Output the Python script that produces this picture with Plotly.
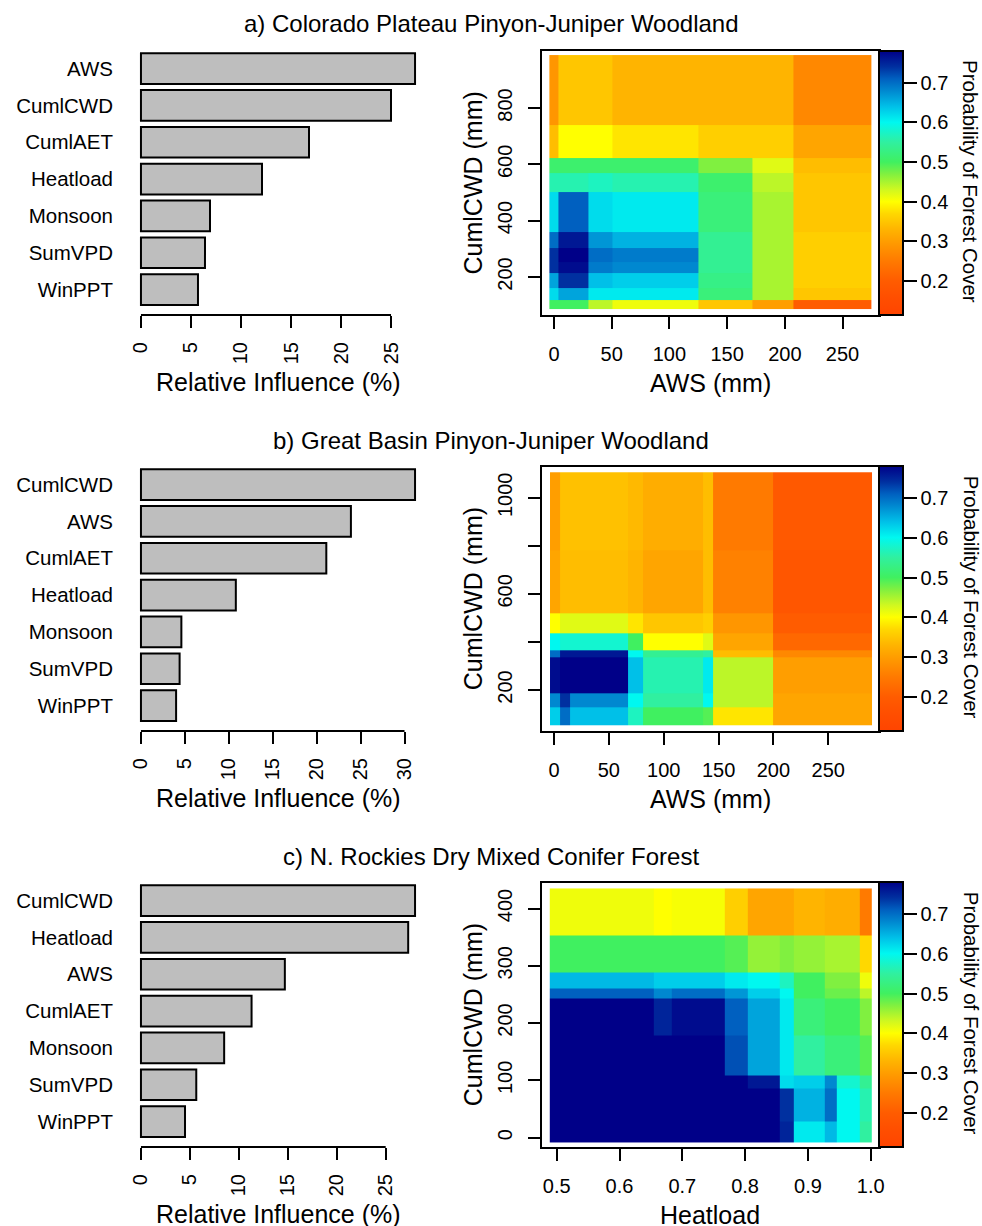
import plotly.graph_objects as go

FONT = "Liberation Sans, Arial, sans-serif"
W, H = 982, 1226

# ---------------- data ----------------
titles = ["a) Colorado Plateau Pinyon-Juniper Woodland",
          "b) Great Basin Pinyon-Juniper Woodland",
          "c) N. Rockies Dry Mixed Conifer Forest"]

vars_a = ["AWS", "CumlCWD", "CumlAET", "Heatload", "Monsoon", "SumVPD", "WinPPT"]
infl_a = [27.4, 25.0, 16.8, 12.1, 6.9, 6.4, 5.7]
vars_b = ["CumlCWD", "AWS", "CumlAET", "Heatload", "Monsoon", "SumVPD", "WinPPT"]
infl_b = [31.2, 23.9, 21.1, 10.8, 4.6, 4.4, 4.0]
vars_c = ["CumlCWD", "Heatload", "AWS", "CumlAET", "Monsoon", "SumVPD", "WinPPT"]
infl_c = [28.0, 27.3, 14.7, 11.3, 8.5, 5.65, 4.5]

# partial dependence grids (cell edges, rows bottom -> top)
aws_edges_a = [-4, 4, 30, 51, 125, 172, 207, 275]
cwd_edges_a = [85, 118, 160, 213, 254, 302, 361, 503, 568, 621, 740, 988]
prob_a = [
    [0.50, 0.50, 0.44, 0.41, 0.35, 0.30, 0.20],
    [0.62, 0.66, 0.61, 0.61, 0.52, 0.45, 0.35],
    [0.66, 0.74, 0.64, 0.63, 0.53, 0.45, 0.36],
    [0.74, 0.77, 0.69, 0.68, 0.54, 0.45, 0.36],
    [0.74, 0.78, 0.70, 0.69, 0.54, 0.45, 0.36],
    [0.70, 0.76, 0.67, 0.65, 0.54, 0.45, 0.36],
    [0.62, 0.71, 0.62, 0.61, 0.52, 0.45, 0.35],
    [0.56, 0.56, 0.57, 0.56, 0.51, 0.44, 0.35],
    [0.51, 0.51, 0.51, 0.51, 0.47, 0.42, 0.34],
    [0.34, 0.40, 0.40, 0.38, 0.36, 0.36, 0.31],
    [0.29, 0.35, 0.35, 0.33, 0.33, 0.33, 0.27],
]

aws_edges_b = [-3.6, 5.5, 15, 67.5, 81, 136, 145, 200, 290]
cwd_edges_b = [54, 130, 186, 338, 366, 435, 518, 781, 1106]
prob_b = [
    [0.63, 0.70, 0.64, 0.57, 0.50, 0.49, 0.38, 0.31],
    [0.68, 0.74, 0.68, 0.60, 0.55, 0.60, 0.44, 0.31],
    [0.77, 0.78, 0.78, 0.64, 0.56, 0.61, 0.44, 0.30],
    [0.70, 0.76, 0.76, 0.60, 0.54, 0.55, 0.34, 0.27],
    [0.60, 0.58, 0.58, 0.50, 0.40, 0.42, 0.31, 0.22],
    [0.40, 0.42, 0.42, 0.38, 0.35, 0.36, 0.29, 0.20],
    [0.31, 0.34, 0.34, 0.33, 0.31, 0.34, 0.26, 0.18],
    [0.30, 0.345, 0.345, 0.335, 0.32, 0.34, 0.25, 0.19],
]

heat_edges_c = [0.489, 0.654, 0.683, 0.768, 0.805, 0.856, 0.877, 0.927, 0.946, 0.983, 1.001]
cwd_edges_c = [-7.7, 27.4, 86, 109, 179, 243, 260, 289, 353, 435]
prob_c = [
    [0.78, 0.78, 0.78, 0.78, 0.78, 0.75, 0.61, 0.645, 0.60, 0.55],
    [0.78, 0.78, 0.78, 0.78, 0.78, 0.74, 0.65, 0.70, 0.60, 0.56],
    [0.78, 0.78, 0.78, 0.78, 0.76, 0.62, 0.63, 0.68, 0.58, 0.54],
    [0.78, 0.78, 0.78, 0.72, 0.66, 0.61, 0.55, 0.52, 0.52, 0.49],
    [0.78, 0.75, 0.77, 0.71, 0.66, 0.61, 0.52, 0.50, 0.50, 0.47],
    [0.71, 0.68, 0.70, 0.67, 0.63, 0.60, 0.50, 0.48, 0.48, 0.44],
    [0.645, 0.63, 0.63, 0.61, 0.60, 0.57, 0.50, 0.47, 0.47, 0.41],
    [0.50, 0.50, 0.50, 0.49, 0.46, 0.47, 0.46, 0.45, 0.45, 0.37],
    [0.41, 0.40, 0.405, 0.36, 0.31, 0.31, 0.33, 0.32, 0.32, 0.25],
]

xlabels = ["AWS (mm)", "AWS (mm)", "Heatload"]
ylabel = "CumlCWD (mm)"
cb_title = "Probability of Forest Cover"
x_ranges = [[-10.4, 281.6], [-10.9, 296.2], [0.4766, 1.0132]]
y_ranges = [[65.1, 1002.4], [29.7, 1130], [-16.4, 445.4]]
x_tickvals = [[0, 50, 100, 150, 200, 250], [0, 50, 100, 150, 200, 250],
              [0.5, 0.6, 0.7, 0.8, 0.9, 1.0]]
x_ticktext = [["0", "50", "100", "150", "200", "250"],
              ["0", "50", "100", "150", "200", "250"],
              ["0.5", "0.6", "0.7", "0.8", "0.9", "1.0"]]
y_tickvals = [[200, 400, 600, 800], [200, 400, 600, 800, 1000], [0, 100, 200, 300, 400]]
y_ticktext = [["200", "400", "600", "800"], ["200", "", "600", "", "1000"],
              ["0", "100", "200", "300", "400"]]
cb_ticks = [0.2, 0.3, 0.4, 0.5, 0.6, 0.7]
zmin, zmax = 0.114, 0.78

# colour ramp of the legend (value -> colour)
ramp_vals = [0.114, 0.16, 0.20, 0.25, 0.29, 0.33, 0.37, 0.40, 0.43, 0.47, 0.50,
             0.55, 0.60, 0.64, 0.68, 0.71, 0.74, 0.78]
ramp_cols = ["#FF4400", "#FF4F00", "#FF5C00", "#FF7A00", "#FF9600", "#FFB400",
             "#FFD800", "#FFFF00", "#D0F820", "#80F040", "#40F060", "#30F0A0",
             "#00F8F0", "#00C0E8", "#0088D0", "#0060C0", "#0030A0", "#000088"]
colorscale = [[(v - zmin) / (zmax - zmin), c] for v, c in zip(ramp_vals, ramp_cols)]

# ---------------- layout ----------------
def px(x):
    return x / W

def py(y):
    return 1 - y / H

def ax(letter, n):
    return letter if n == 1 else f"{letter}{n}"

fig = go.Figure()
bars = [(vars_a, infl_a), (vars_b, infl_b), (vars_c, infl_c)]
grids = [(aws_edges_a, cwd_edges_a, prob_a), (aws_edges_b, cwd_edges_b, prob_b),
         (heat_edges_c, cwd_edges_c, prob_c)]
bar_top = [43.2, 459.2, 875.2]
bar_bot = [315, 731, 1147]
hm_top = [51, 466.5, 882.5]
hm_bot = [315, 731, 1147]
title_y = [23, 440, 856]

annotations = []
shapes = []
layout = {}
for i in range(3):
    n = 2 * i + 1
    xb, yb = ax("x", n), ax("y", n)
    xh, yh = ax("x", n + 1), ax("y", n + 1)
    names, vals = bars[i]
    mx = max(vals)
    fig.add_trace(go.Bar(x=vals[::-1], y=names[::-1], orientation="h",
                         marker=dict(color="#BEBEBE", line=dict(color="black", width=2)),
                         xaxis=xb, yaxis=yb, showlegend=False))
    layout[ax("xaxis", n)] = dict(domain=[px(130), px(426)], anchor=yb,
                              range=[-0.04 * mx, 1.04 * mx], dtick=5, tick0=0,
                              showline=False, showgrid=False, zeroline=False,
                              ticks="outside", ticklen=12, tickwidth=2, tickcolor="black",
                              tickangle=-90, tickfont=dict(size=20, family=FONT, color="black"),
                              ticklabelstandoff=6)
    layout[ax("yaxis", n)] = dict(domain=[py(bar_bot[i]), py(bar_top[i])], anchor=xb,
                              type="category", range=[-0.69, 6.69],
                              showline=False, showgrid=False, zeroline=False, ticks="",
                              tickfont=dict(size=20.5, family=FONT, color="black"),
                              ticklabelstandoff=16)
    last_tick = int(mx // 5) * 5
    shapes.append(dict(type="line", xref=xb, yref=f"{yb} domain", x0=0, x1=last_tick,
                       y0=0, y1=0, line=dict(color="black", width=2)))
    annotations.append(dict(text="Relative Influence (%)", x=px(278), y=py(bar_bot[i] + 67),
                            xref="paper", yref="paper", showarrow=False,
                            font=dict(size=25, family=FONT, color="black"),
                            xanchor="center", yanchor="middle"))

    xe, ye, z = grids[i]
    fig.add_trace(go.Heatmap(x=xe, y=ye, z=z, zmin=zmin, zmax=zmax, colorscale=colorscale,
                             xaxis=xh, yaxis=yh,
                             colorbar=dict(x=px(879), xanchor="left", xpad=0, ypad=0,
                                           thickness=24, lenmode="fraction",
                                           len=(hm_bot[i] - hm_top[i]) / H,
                                           y=py((hm_top[i] + hm_bot[i]) / 2), yanchor="middle",
                                           outlinewidth=2, outlinecolor="black",
                                           tickvals=cb_ticks, ticks="outside", ticklen=13,
                                           tickwidth=2, tickcolor="black",
                                           tickprefix="\u00a0",
                                           tickfont=dict(size=20, family=FONT, color="black"))))
    layout[ax("xaxis", n + 1)] = dict(domain=[px(542), px(879)], anchor=yh, range=x_ranges[i],
                                tickvals=x_tickvals[i], ticktext=x_ticktext[i],
                                showline=True, mirror=True, linecolor="black", linewidth=2,
                                showgrid=False, zeroline=False,
                                ticks="outside", ticklen=12, tickwidth=2, tickcolor="black",
                                tickfont=dict(size=20, family=FONT, color="black"),
                                ticklabelstandoff=8)
    layout[ax("yaxis", n + 1)] = dict(domain=[py(hm_bot[i]), py(hm_top[i])], anchor=xh,
                                range=y_ranges[i],
                                tickvals=y_tickvals[i], ticktext=y_ticktext[i],
                                showline=True, mirror=True, linecolor="black", linewidth=2,
                                showgrid=False, zeroline=False, tickangle=-90,
                                ticks="outside", ticklen=12, tickwidth=2, tickcolor="black",
                                tickfont=dict(size=20, family=FONT, color="black"),
                                ticklabelstandoff=8)
    annotations.append(dict(text=xlabels[i], x=px(710), y=py(hm_bot[i] + 68),
                            xref="paper", yref="paper", showarrow=False,
                            font=dict(size=25, family=FONT, color="black"),
                            xanchor="center", yanchor="middle"))
    annotations.append(dict(text=ylabel, x=px(472.5), y=py((hm_top[i] + hm_bot[i]) / 2),
                            xref="paper", yref="paper", showarrow=False, textangle=-90,
                            font=dict(size=25, family=FONT, color="black"),
                            xanchor="center", yanchor="middle"))
    annotations.append(dict(text=cb_title, x=px(971), y=py((hm_top[i] + hm_bot[i]) / 2 - 2),
                            xref="paper", yref="paper", showarrow=False, textangle=90,
                            font=dict(size=20.5, family=FONT, color="black"),
                            xanchor="center", yanchor="middle"))
    annotations.append(dict(text=titles[i], x=0.5, y=py(title_y[i]), xref="paper",
                            yref="paper", showarrow=False,
                            font=dict(size=24, family=FONT, color="black"),
                            xanchor="center", yanchor="middle"))

fig.update_layout(width=W, height=H, margin=dict(l=0, r=0, t=0, b=0, autoexpand=False),
                  paper_bgcolor="white", plot_bgcolor="white", bargap=1/6,
                  annotations=annotations, shapes=shapes,
                  font=dict(family=FONT, color="black"), **layout)
fig.write_html("out.html")
